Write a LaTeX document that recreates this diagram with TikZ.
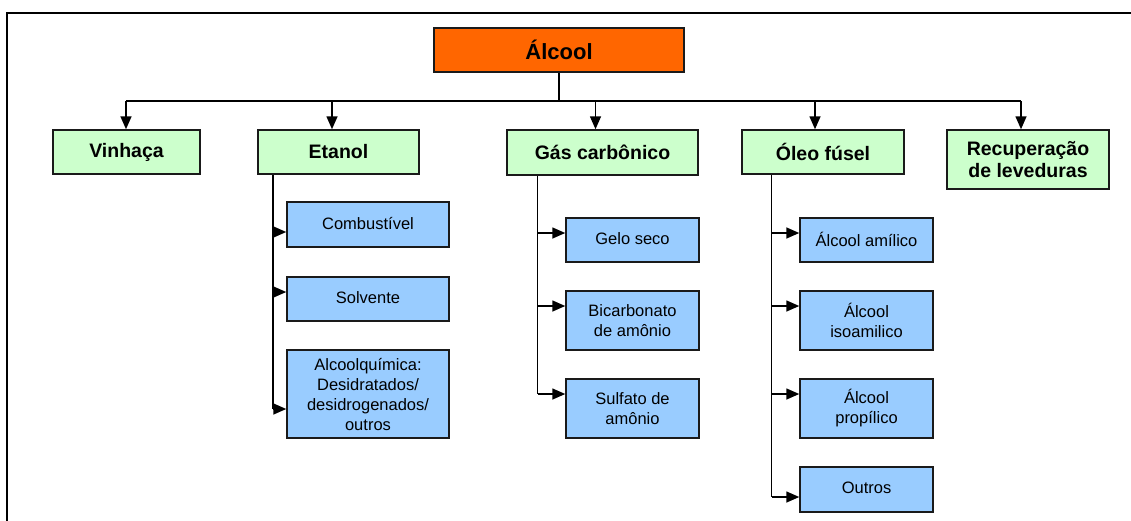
\documentclass[tikz,border=0pt]{standalone}
\usepackage{fontspec}
\setmainfont{Liberation Sans}
\usetikzlibrary{arrows.meta}
\definecolor{orng}{HTML}{FF6600}
\definecolor{grn}{HTML}{CCFFCC}
\definecolor{blu}{HTML}{99CCFF}
\definecolor{edge}{HTML}{1A1A1A}
\tikzset{
  box/.style={draw=edge, line width=1.5pt, inner sep=0pt, align=center, anchor=center},
  topbox/.style={box, fill=orng, minimum width=250pt, minimum height=44pt, font=\fontsize{22}{26}\selectfont\bfseries},
  gbox/.style={box, fill=grn, minimum height=44pt, font=\fontsize{19.5}{22}\selectfont\bfseries},
  bbox/.style={box, fill=blu, minimum width=#1, font=\fontsize{16.5}{20}\selectfont},
  bbox/.default=162pt,
  wire/.style={line width=1.6pt, draw=black},
  arr/.style={wire, -{Triangle[length=13pt,width=11pt]}},
}
\begin{document}
\begin{tikzpicture}[x=1pt,y=-1pt]
\useasboundingbox (0,0) rectangle (1131,520);
\begin{scope}
\clip (0,0) rectangle (1131,520);
\draw[line width=1.5pt] (7,13) rectangle (1145,535);
\end{scope}
% top node
\node[topbox] (alc) at (559,50) {Álcool};
% green nodes
\node[gbox, minimum width=147pt] (vin) at (126.5,152) {Vinhaça};
\node[gbox, minimum width=161pt] (eta) at (338.5,152) {Etanol};
\node[gbox, minimum width=191pt, minimum height=45pt] (gas) at (602.5,152.5) {Gás carbônico};
\node[gbox, minimum width=162pt] (ole) at (823,152) {Óleo fúsel};
\node[gbox, minimum width=162pt, minimum height=59pt] (rec) at (1028,159.5) {Recuperação\\de leveduras};
% blue nodes - Etanol
\node[bbox, minimum height=45pt] (comb) at (368,224.5) {\raisebox{3pt}{Combustível}};
\node[bbox, minimum height=44pt] (solv) at (368,299) {\raisebox{3pt}{Solvente}};
\node[bbox, minimum height=88pt] (alq) at (368,394) {Alcoolquímica:\\Desidratados/\\desidrogenados/\\outros};
% blue nodes - Gas
\node[bbox=133pt, minimum height=44pt] (gelo) at (632.5,240) {\raisebox{2pt}{Gelo seco}};
\node[bbox=133pt, minimum height=59pt] (bic) at (632.5,320.5) {Bicarbonato\\de amônio};
\node[bbox=133pt, minimum height=59pt] (sulf) at (632.5,408.5) {Sulfato de\\amônio};
% blue nodes - Oleo
\node[bbox=133pt, minimum height=44pt] (ami) at (866.5,240) {\raisebox{2pt}{Álcool amílico}};
\node[bbox=133pt, minimum height=59pt] (iso) at (866.5,320.5) {Álcool\\isoamilico};
\node[bbox=133pt, minimum height=59pt] (pro) at (866.5,408.5) {Álcool\\propílico};
\node[bbox=133pt, minimum height=45pt] (out) at (866.5,489.5) {\raisebox{3pt}{Outros}};
% bus
\coordinate (bL) at (126,101);
\coordinate (bR) at (1021,101);
\coordinate (b2) at (332,101);
\coordinate (b3) at (595.5,101);
\coordinate (b4) at (815,101);
\draw[wire] (alc.south) -- (alc.south |- bL);
\draw[wire] (bL) -- (bR);
\draw[arr] (bL) -- (bL |- vin.north);
\draw[arr] (b2) -- (b2 |- eta.north);
\draw[arr] (b3) -- (b3 |- gas.north);
\draw[arr] (b4) -- (b4 |- ole.north);
\draw[arr] (bR) -- (bR |- rec.north);
% Etanol branch
\coordinate (e1) at (273,232);
\coordinate (e2) at (273,292);
\coordinate (e3) at (273,409);
\draw[wire] (e3 |- eta.south) -- (e3);
\draw[arr] (e1) -- (e1 -| comb.west);
\draw[arr] (e2) -- (e2 -| solv.west);
\draw[arr] (e3) -- (e3 -| alq.west);
% Gas branch
\coordinate (g1) at (537.5,233);
\coordinate (g2) at (537.5,306);
\coordinate (g3) at (537.5,394);
\draw[wire] (g3 |- gas.south) -- (g3);
\draw[arr] (g1) -- (g1 -| gelo.west);
\draw[arr] (g2) -- (g2 -| bic.west);
\draw[arr] (g3) -- (g3 -| sulf.west);
% Oleo branch
\coordinate (o1) at (771.5,233);
\coordinate (o2) at (771.5,306);
\coordinate (o3) at (771.5,394);
\coordinate (o4) at (771.5,497);
\draw[wire] (o4 |- ole.south) -- (o4);
\draw[arr] (o1) -- (o1 -| ami.west);
\draw[arr] (o2) -- (o2 -| iso.west);
\draw[arr] (o3) -- (o3 -| pro.west);
\draw[arr] (o4) -- (o4 -| out.west);
\end{tikzpicture}
\end{document}
